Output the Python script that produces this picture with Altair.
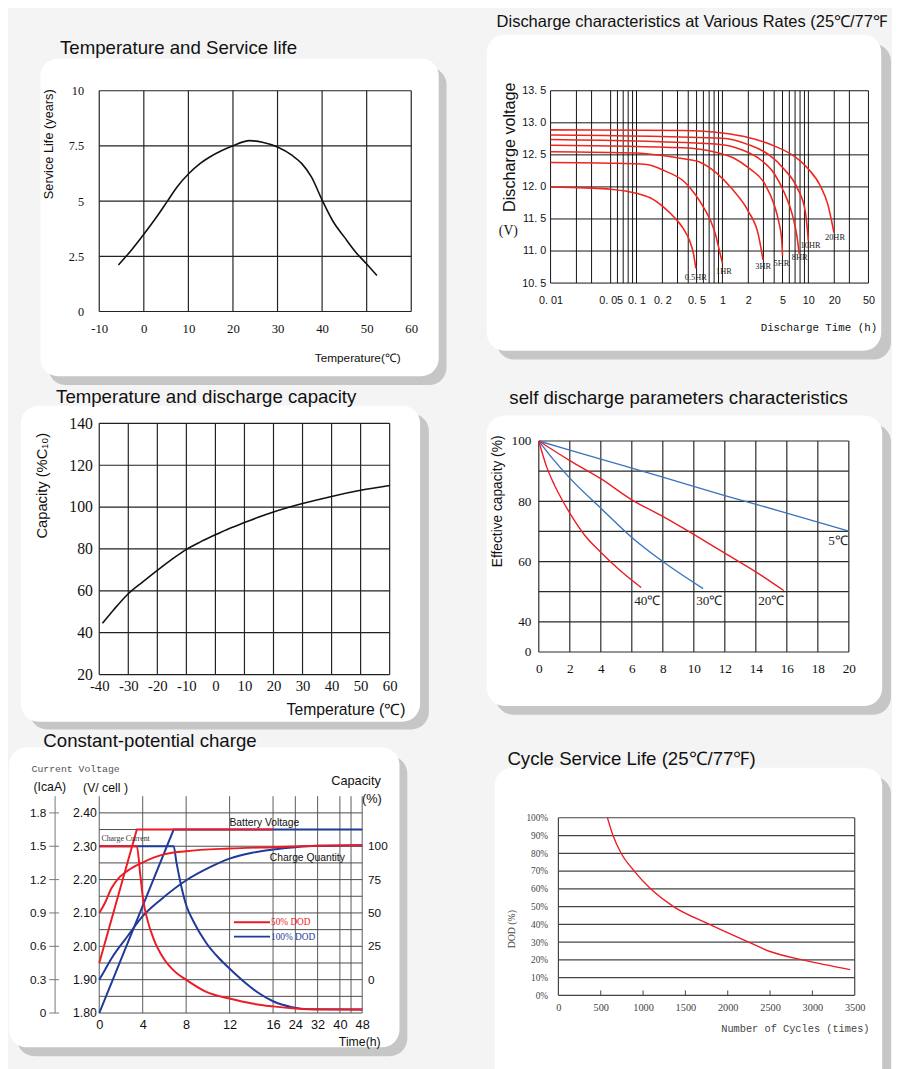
import altair as alt
import pandas as pd

SANS = "Liberation Sans, Arial, Helvetica, sans-serif"
SERIF = "Liberation Serif, Times New Roman, serif"
MONO = "Liberation Mono, Courier New, monospace"
INK = "#111111"
RED = "#ec1c24"
BLUE_LIGHT = "#3a74bd"
BLUE_DARK = "#1f3a98"
PLAIN = "'' + datum.value"

# ---------------- Temperature and Service life
life_temp_ticks = [-10, 0, 10, 20, 30, 40, 50, 60]
life_year_ticks = [0, 2.5, 5, 7.5, 10]
life_temp = [-5.7, -2.8, 0, 3.1, 5.3, 7.5, 10.1, 12.6, 14.8, 17.4, 20.0, 23.7, 26.6,
             30.0, 33.2, 35.4, 37.6, 40.0, 42.4, 45.0, 47.5, 50.0, 52.3]
life_years = [2.11, 2.78, 3.50, 4.35, 5.00, 5.65, 6.25, 6.70, 7.00, 7.28, 7.51, 7.74, 7.67,
              7.45, 7.08, 6.71, 6.10, 5.05, 4.10, 3.37, 2.70, 2.15, 1.63]

# ---------------- Discharge characteristics at various rates
dis_time_ticks = [0.01, 0.05, 0.1, 0.2, 0.5, 1, 2, 5, 10, 20, 50]
dis_time_grid = [0.01, 0.02, 0.03, 0.05, 0.06, 0.07, 0.08, 0.09, 0.1, 0.2, 0.3, 0.4, 0.5,
                 0.6, 0.7, 0.8, 0.9, 1, 2, 3, 4, 5, 6, 7, 8, 9, 10, 20, 30, 50]
dis_volt_ticks = [10.5, 11.0, 11.5, 12.0, 12.5, 13.0, 13.5]
hr05_t = [0.01, 0.025, 0.05, 0.1, 0.144, 0.213, 0.278, 0.346, 0.415, 0.46, 0.49]
hr05_v = [12.0, 11.985, 11.965, 11.90, 11.83, 11.67, 11.52, 11.36, 11.16, 10.96, 10.73]
hr1_t = [0.01, 0.05, 0.131, 0.213, 0.36, 0.49, 0.61, 0.73, 0.83, 0.92, 1.0]
hr1_v = [12.38, 12.37, 12.35, 12.25, 12.08, 11.87, 11.67, 11.47, 11.26, 11.01, 10.81]
hr3_t = [0.01, 0.1, 0.2, 0.35, 0.54, 0.83, 1.29, 2.0, 2.61, 2.97]
hr3_v = [12.55, 12.53, 12.49, 12.44, 12.39, 12.23, 11.97, 11.62, 11.26, 10.86]
hr5_t = [0.01, 0.35, 0.83, 1.4, 2.0, 3.1, 4.0, 4.5, 4.9, 5.0]
hr5_v = [12.65, 12.61, 12.54, 12.44, 12.30, 12.05, 11.72, 11.47, 11.16, 10.93]
hr8_t = [0.01, 0.83, 1.67, 2.8, 4.0, 5.2, 6.5, 7.4, 7.8]
hr8_v = [12.74, 12.67, 12.58, 12.42, 12.21, 11.92, 11.57, 11.21, 10.96]
hr10_t = [0.01, 1.0, 2.0, 3.4, 5.2, 7.5, 9.2, 10.0]
hr10_v = [12.81, 12.76, 12.66, 12.51, 12.28, 11.97, 11.62, 11.16]
hr20_t = [0.01, 0.35, 1.0, 2.0, 4.0, 6.8, 10.0, 13.6, 16.9, 19.8]
hr20_v = [12.89, 12.88, 12.84, 12.77, 12.64, 12.48, 12.28, 12.03, 11.72, 11.29]
rate_names = ["0.5HR", "1HR", "3HR", "5HR", "8HR", "10HR", "20HR"]
rate_label_t = [0.49, 1.04, 2.98, 4.85, 7.9, 10.6, 20.4]
rate_label_v = [10.60, 10.69, 10.77, 10.81, 10.90, 11.10, 11.22]

# ---------------- Temperature and discharge capacity
cap_temp_ticks = [-40, -30, -20, -10, 0, 10, 20, 30, 40, 50, 60]
cap_pct_ticks = [20, 40, 60, 80, 100, 120, 140]
cap_temp = [-38.9, -35, -30, -25, -20, -15, -10, -5, 0, 5, 10, 15, 20, 25, 30, 40, 50, 60]
cap_pct = [44.5, 51.0, 58.6, 64.3, 69.8, 75.0, 79.8, 83.5, 86.8, 89.9, 92.6, 95.3, 97.7,
           99.8, 101.7, 105.1, 108.0, 110.3]

# ---------------- Self discharge
sd_day_ticks = [0, 2, 4, 6, 8, 10, 12, 14, 16, 18, 20]
sd_cap_ticks = [30, 40, 50, 60, 70, 80, 90, 100]
sd5_days = [0, 4, 8, 12, 16, 20]
sd5_cap = [100, 94.0, 88.0, 81.9, 76.1, 70.1]
sd20_days = [0, 2, 4, 6, 8, 10, 12, 14, 15.8]
sd20_cap = [100, 93.5, 87.5, 80.5, 75.0, 69.0, 62.8, 56.6, 50.4]
sd30_days = [0, 1, 2, 4, 6, 8, 10.6]
sd30_cap = [100, 93.5, 87.7, 77.7, 68.0, 60.0, 51.0]
sd40_days = [0, 0.5, 1, 1.5, 2, 3, 4, 5.1, 6.6]
sd40_cap = [100, 91.5, 85.5, 80.5, 76.1, 68.5, 63.1, 57.7, 51.4]
sd_label_text = ["5℃", "40℃", "30℃", "20℃"]
sd_label_day = [19.3, 7.0, 11.0, 15.0]
sd_label_cap = [66.9, 47.0, 47.0, 47.0]

# ---------------- Constant-potential charge
chg_time_ticks = [0, 4, 8, 12, 16, 24, 32, 40, 48]
chg_time_grid = [0, 4, 8, 12, 16, 24, 32, 40, 44, 48]
chg_volt_ticks = [1.8, 1.9, 2.0, 2.1, 2.2, 2.3, 2.4]
chg_volt_grid = [1.80, 1.85, 1.90, 1.95, 2.00, 2.05, 2.10, 2.15, 2.20, 2.25, 2.30, 2.35, 2.40]
chg_cap_ticks = [1.9, 2.0, 2.1, 2.2, 2.3]
bv50_t = [0, 3.46, 16]
bv50_v = [1.95, 2.35, 2.35]
bv100_t = [0, 6.85, 48]
bv100_v = [1.80, 2.35, 2.35]
cc50_t = [0, 3.46, 3.77, 4.04, 4.43, 5.03, 5.93, 6.99, 7.98, 9.85, 11.99, 14.07, 16, 24, 32, 48]
cc50_i = [1.5, 1.5, 1.25, 1.02, 0.84, 0.66, 0.49, 0.37, 0.30, 0.19, 0.13, 0.085, 0.06, 0.041, 0.032, 0.032]
cc100_t = [0, 6.85, 7.1, 7.44, 8.04, 8.64, 9.85, 11.05, 11.99, 13.46, 14.67, 16, 22.8, 28.8, 48]
cc100_i = [1.5, 1.5, 1.36, 1.19, 0.96, 0.83, 0.63, 0.49, 0.40, 0.27, 0.18, 0.106, 0.053, 0.035, 0.032]
cq50_t = [0, 0.51, 1.11, 1.87, 2.62, 3.98, 5.93, 7.98, 11.99, 16, 32, 48]
cq50_q = [50, 57.3, 68.3, 76.8, 81.7, 87.8, 93.9, 96.3, 98.3, 99.3, 100.3, 100.8]
cq100_t = [0, 0.51, 1.11, 2.62, 3.98, 5.63, 7.98, 10.15, 11.99, 14.07, 16, 24, 32, 48]
cq100_q = [0, 7.1, 15.7, 32.7, 47.4, 59.7, 74.3, 84.1, 90.7, 95.1, 97.6, 99.3, 100.3, 100.8]
chg_label_text = ["Battery Voltage", "Charge Quantity"]
chg_label_t = [15.2, 28.3]
chg_label_v = [2.368, 2.265]
leg_names = ["50% DOD", "100% DOD"]
leg_t0 = [12.4, 12.4]
leg_t1 = [15.72, 15.72]
leg_v = [2.072, 2.029]
leg_colors = [RED, BLUE_DARK]

# ---------------- Cycle service life
cyc_ticks = [0, 500, 1000, 1500, 2000, 2500, 3000, 3500]
dod_ticks = [0, 10, 20, 30, 40, 50, 60, 70, 80, 90, 100]
cycles = [579, 645, 741, 896, 1089, 1360, 1785, 2248, 2500, 2900, 3445]
dod = [100, 90, 80, 70, 60, 50, 40, 30, 24.7, 19.8, 14.5]

ONE = pd.DataFrame({"k": [0]})


def ax(**kw):
    base = dict(grid=False, ticks=False, domain=False, labelFlush=False,
                labelOverlap=False, zindex=1, titleFontWeight="normal",
                labelColor=INK, titleColor=INK)
    base.update(kw)
    return alt.Axis(**base)


def vtext(txt, x, y, font=SANS, size=12, color=INK, align="left"):
    return alt.Chart(ONE).mark_text(align=align, baseline="alphabetic", font=font,
                                    fontSize=size, color=color).encode(
        x=alt.value(x), y=alt.value(y), text=alt.value(txt))


def deco(ext, card, sdx, sdy, title, tx, ty, tsize, round_bottom=True):
    ex0, ex1, ey0, ey1 = ext
    cx0, cx1, cy0, cy1 = card
    r = 18
    rb = r if round_bottom else 0
    spacer = alt.Chart(ONE).mark_rect(opacity=0).encode(
        x=alt.value(ex0), x2=alt.value(ex1), y=alt.value(ey0), y2=alt.value(ey1))
    shadow = alt.Chart(ONE).mark_rect(
        color="#c6c6c6", cornerRadiusTopLeft=r, cornerRadiusTopRight=r,
        cornerRadiusBottomLeft=rb, cornerRadiusBottomRight=rb).encode(
        x=alt.value(cx0 + sdx), x2=alt.value(cx1 + sdx),
        y=alt.value(cy0 + sdy), y2=alt.value(min(cy1 + sdy, ey1)))
    cardl = alt.Chart(ONE).mark_rect(
        color="#ffffff", cornerRadiusTopLeft=r, cornerRadiusTopRight=r,
        cornerRadiusBottomLeft=rb, cornerRadiusBottomRight=rb).encode(
        x=alt.value(cx0), x2=alt.value(cx1), y=alt.value(cy0), y2=alt.value(cy1))
    return [spacer, shadow, cardl, vtext(title, tx, ty, size=tsize)]


# =============== Panel 1
W1, H1 = 318, 225
sx1 = alt.Scale(domain=[-10, 60], nice=False, zero=False)
sy1 = alt.Scale(domain=[0, 10], nice=False, zero=False)
ax1x = ax(values=life_temp_ticks, labelExpr=PLAIN, labelFont=SERIF, labelFontSize=13, labelPadding=11,
          title="Temperature(℃)", titleFont=SANS, titleFontSize=12, titleX=263, titleY=51,
          titleAlign="center", titleBaseline="alphabetic")
ax1y = ax(values=life_year_ticks, labelExpr=PLAIN, labelFont=SERIF, labelFontSize=12.5, labelPadding=16,
          title="Service Life (years)", titleFont=SANS, titleFontSize=13, titleX=-52, titleY=54,
          titleAlign="center", titleBaseline="middle", titleAngle=270)
X1 = alt.X("temp:Q", scale=sx1, axis=ax1x)
Y1 = alt.Y("life:Q", scale=sy1, axis=ax1y)
g1x = alt.Chart(pd.DataFrame({"temp": life_temp_ticks})).mark_rule(color="#222", strokeWidth=1.2).encode(x=X1)
g1y = alt.Chart(pd.DataFrame({"life": life_year_ticks})).mark_rule(color="#222", strokeWidth=1.2).encode(y=Y1)
l1 = alt.Chart(pd.DataFrame({"temp": life_temp, "life": life_years})).mark_line(
    color=INK, strokeWidth=1.6, interpolate="monotone").encode(x=X1, y=Y1)
p1 = alt.layer(*deco([-75, 373, -54, 301], [-60, 346, -33, 291], 8, 9,
                     "Temperature and Service life", -40, -37, 19),
               g1x, g1y, l1).properties(width=W1, height=H1)

# =============== Panel 2
W2, H2 = 324, 196
sx2 = alt.Scale(type="log", domain=[0.01, 50], nice=False)
sy2 = alt.Scale(domain=[10.5, 13.5], nice=False, zero=False)
X2 = alt.X("t:Q", scale=sx2, axis=ax(
    values=dis_time_ticks, labelExpr="replace(format(datum.value, '~g'), '.', '. ')",
    labelFont=SANS, labelFontSize=11, labelPadding=12,
    title="Discharge Time (h)", titleFont=MONO, titleFontSize=11, titleX=273, titleY=48,
    titleAlign="center", titleBaseline="alphabetic"))
Y2 = alt.Y("v:Q", scale=sy2, axis=ax(
    values=dis_volt_ticks, labelExpr="replace(format(datum.value, '.1f'), '.', '. ')",
    labelFont=SANS, labelFontSize=11, labelPadding=5,
    title="Discharge voltage", titleFont=SANS, titleFontSize=16.5, titleX=-42, titleY=57,
    titleAlign="center", titleBaseline="middle", titleAngle=270))
rate_series = [("0.5HR", hr05_t, hr05_v), ("1HR", hr1_t, hr1_v), ("3HR", hr3_t, hr3_v),
               ("5HR", hr5_t, hr5_v), ("8HR", hr8_t, hr8_v), ("10HR", hr10_t, hr10_v),
               ("20HR", hr20_t, hr20_v)]
df2 = pd.concat([pd.DataFrame({"rate": n, "t": t, "v": v}) for n, t, v in rate_series])
g2x = alt.Chart(pd.DataFrame({"t": dis_time_grid})).mark_rule(color="#111", strokeWidth=1).encode(x=X2)
g2y = alt.Chart(pd.DataFrame({"v": dis_volt_ticks})).mark_rule(color="#111", strokeWidth=1).encode(y=Y2)
l2 = alt.Chart(df2).mark_line(color="#f0261e", strokeWidth=1.6, interpolate="monotone").encode(
    x=X2, y=Y2, detail="rate:N")
t2 = alt.Chart(pd.DataFrame({"name": rate_names, "t": rate_label_t, "v": rate_label_v})).mark_text(
    font=SERIF, fontSize=8.5, color="#222").encode(x=X2, y=Y2, text="name:N")
p2 = alt.layer(*deco([-85, 347, -85, 274], [-65, 337, -57, 265], 10, 9,
                     "Discharge characteristics at Various Rates (25℃/77℉", -55, -65, 16.8),
               g2x, g2y, l2, t2, vtext("(V)", -43, 147, font=SERIF, size=14, align="center")
               ).properties(width=W2, height=H2)

# =============== Panel 3
W3, H3 = 296, 256
sx3 = alt.Scale(domain=[-40, 60], nice=False, zero=False)
sy3 = alt.Scale(domain=[20, 140], nice=False, zero=False)
X3 = alt.X("temp:Q", scale=sx3, axis=ax(
    values=cap_temp_ticks, labelExpr=PLAIN, labelFont=SERIF, labelFontSize=15, labelPadding=4,
    title="Temperature (℃)", titleFont=SANS, titleFontSize=16, titleX=251, titleY=41,
    titleAlign="center", titleBaseline="alphabetic"))
Y3 = alt.Y("cap:Q", scale=sy3, axis=ax(
    values=cap_pct_ticks, labelExpr=PLAIN, labelFont=SERIF, labelFontSize=16, labelPadding=7,
    title="Capacity (%C₁₀)", titleFont=SANS, titleFontSize=15, titleX=-59, titleY=63,
    titleAlign="center", titleBaseline="middle", titleAngle=270))
g3x = alt.Chart(pd.DataFrame({"temp": cap_temp_ticks})).mark_rule(color="#222", strokeWidth=1.2).encode(x=X3)
g3y = alt.Chart(pd.DataFrame({"cap": cap_pct_ticks})).mark_rule(color="#222", strokeWidth=1.2).encode(y=Y3)
l3 = alt.Chart(pd.DataFrame({"temp": cap_temp, "cap": cap_pct})).mark_line(
    color=INK, strokeWidth=1.6, interpolate="monotone").encode(x=X3, y=Y3)
p3 = alt.layer(*deco([-80, 368, -36, 312], [-80, 327, -18, 304], 9, 8,
                     "Temperature and discharge capacity", -44, -21, 19),
               g3x, g3y, l3).properties(width=W3, height=H3)

# =============== Panel 4
W4, H4 = 316, 215
sx4 = alt.Scale(domain=[0, 20], nice=False, zero=False)
sy4 = alt.Scale(domain=[30, 100], nice=False, zero=False)
X4 = alt.X("day:Q", scale=sx4, axis=ax(
    values=sd_day_ticks, labelExpr=PLAIN, labelFont=SERIF, labelFontSize=13.5, labelPadding=10,
    title=None))
Y4 = alt.Y("cap:Q", scale=sy4, axis=ax(
    values=sd_cap_ticks,
    labelExpr="datum.value == 30 ? '0' : (datum.value % 20 == 0 ? '' + datum.value : '')",
    labelFont=SERIF, labelFontSize=13.5, labelPadding=8,
    title="Effective capacity (%)", titleFont=SANS, titleFontSize=14, titleX=-42, titleY=61,
    titleAlign="center", titleBaseline="middle", titleAngle=270))
sd_series = [("5℃", sd5_days, sd5_cap, BLUE_LIGHT), ("20℃", sd20_days, sd20_cap, RED),
             ("30℃", sd30_days, sd30_cap, BLUE_LIGHT), ("40℃", sd40_days, sd40_cap, RED)]
df4 = pd.concat([pd.DataFrame({"temp": n, "day": d, "cap": c, "col": col}) for n, d, c, col in sd_series])
g4x = alt.Chart(pd.DataFrame({"day": sd_day_ticks})).mark_rule(color="#2a2a2a", strokeWidth=1.2).encode(x=X4)
g4y = alt.Chart(pd.DataFrame({"cap": sd_cap_ticks})).mark_rule(color="#2a2a2a", strokeWidth=1.2).encode(y=Y4)
l4 = alt.Chart(df4).mark_line(strokeWidth=1.4, interpolate="monotone").encode(
    x=X4, y=Y4, color=alt.Color("col:N", scale=None), detail="temp:N")
t4 = alt.Chart(pd.DataFrame({"name": sd_label_text, "day": sd_label_day, "cap": sd_label_cap})).mark_text(
    font=SERIF, fontSize=13.5, color="#222").encode(x=X4, y=Y4, text="name:N")
p4 = alt.layer(*deco([-73, 359, -54, 280], [-53, 350, -26, 270], 9, 9,
                     "self discharge parameters characteristics", -30, -38, 19),
               g4x, g4y, l4, t4).properties(width=W4, height=H4)

# =============== Panel 5  (time axis: 0-16 h stretched, 16-48 h compressed)
W5, H5 = 268, 221
BREAK_H, BREAK_FRAC = 16, 0.661
POS_EXPR = "datum.{f} <= 16 ? datum.{f} / 16 * 0.661 : 0.661 + (datum.{f} - 16) / 32 * 0.339"
LABEL_EXPR = ("datum.value <= 0.6615 ? format(round(datum.value / 0.661 * 16), 'd') : "
              "format(round(16 + (datum.value - 0.661) / 0.339 * 32), 'd')")


def tpos(t):
    return t / BREAK_H * BREAK_FRAC if t <= BREAK_H else BREAK_FRAC + (t - BREAK_H) / 32 * (1 - BREAK_FRAC)


sx5 = alt.Scale(domain=[0, 1], nice=False, zero=False)
sy5 = alt.Scale(domain=[1.8, 2.45], nice=False, zero=False)
ax5x = ax(values=[tpos(t) for t in chg_time_ticks], labelExpr=LABEL_EXPR,
          labelFont=SANS, labelFontSize=13, labelPadding=6,
          title="Time(h)", titleFont=SANS, titleFontSize=12.5, titleX=265, titleY=33,
          titleAlign="center", titleBaseline="alphabetic")
ax5y = ax(values=chg_volt_ticks, format=".2f", labelFont=SANS, labelFontSize=12.5,
          labelPadding=3, title="(V/ cell )", titleFont=SANS, titleFontSize=12.5, titleAngle=0,
          titleX=-17, titleY=-5, titleAlign="left", titleBaseline="alphabetic")


def X5(f="t_pos"):
    return alt.X(f + ":Q", scale=sx5, axis=ax5x)


Y5 = alt.Y("yv:Q", scale=sy5, axis=ax5y)


def chg_chart(df, fields=("t",)):
    c = alt.Chart(df)
    for f in fields:
        c = c.transform_calculate(**{f + "_pos": POS_EXPR.format(f=f)})
    return c


def volt_df(kind, t, yv):
    return pd.DataFrame({"kind": kind, "t": t, "yv": yv})


bv_blue = volt_df("bv", bv100_t, bv100_v)
bv_red = volt_df("bv", bv50_t, bv50_v)
cur_blue = pd.concat([volt_df("cc", cc100_t, [1.8 + i / 3 for i in cc100_i]),
                      volt_df("cq", cq100_t, [1.9 + q / 250 for q in cq100_q])])
cur_red = pd.concat([volt_df("cc", cc50_t, [1.8 + i / 3 for i in cc50_i]),
                     volt_df("cq", cq50_t, [1.9 + q / 250 for q in cq50_q])])

g5x = chg_chart(pd.DataFrame({"t": chg_time_grid})).mark_rule(color="#5a5a5a", strokeWidth=1).encode(x=X5())
g5y = alt.Chart(pd.DataFrame({"yv": chg_volt_grid})).mark_rule(color="#4a4a4a", strokeWidth=1).encode(y=Y5)
bvb = chg_chart(bv_blue).mark_line(color=BLUE_DARK, strokeWidth=2).encode(x=X5(), y=Y5)
cvb = chg_chart(cur_blue).mark_line(color=BLUE_DARK, strokeWidth=2, interpolate="monotone").encode(
    x=X5(), y=Y5, detail="kind:N")
bvr = chg_chart(bv_red).mark_line(color=RED, strokeWidth=2).encode(x=X5(), y=Y5)
cvr = chg_chart(cur_red).mark_line(color=RED, strokeWidth=2, interpolate="monotone").encode(
    x=X5(), y=Y5, detail="kind:N")
# current (CA) scale drawn left of the voltage scale, capacity (%) scale on the right
cur_df = pd.DataFrame({"yv": chg_volt_ticks})
cur_line = alt.Chart(ONE).mark_rule(color="#777", strokeWidth=1).encode(x=alt.value(-45))
cur_ticks = alt.Chart(cur_df).mark_rule(color="#777", strokeWidth=1).encode(
    x=alt.value(-51), x2=alt.value(-41), y=Y5)
cur_labels = alt.Chart(cur_df).transform_calculate(
    lab="datum.yv == 1.8 ? '0' : format((datum.yv - 1.8) * 3, '.1f')").mark_text(
    align="right", baseline="middle", font=SANS, fontSize=12, color=INK).encode(
    x=alt.value(-54), y=Y5, text="lab:N")
cap_labels = alt.Chart(pd.DataFrame({"yv": chg_cap_ticks})).transform_calculate(
    lab="format(round((datum.yv - 1.9) * 250), 'd')").mark_text(
    align="left", baseline="middle", font=SANS, fontSize=12, color=INK).encode(
    x=alt.value(W5 + 6), y=Y5, text="lab:N")
lab5 = chg_chart(pd.DataFrame({"name": chg_label_text, "t": chg_label_t, "yv": chg_label_v})).mark_text(
    font=SANS, fontSize=10.5, color=INK).encode(x=X5(), y=Y5, text="name:N")
lab5b = chg_chart(pd.DataFrame({"name": ["Charge Current"], "t": [0.2], "yv": [2.322]})).mark_text(
    font=SERIF, fontSize=8, color="#333", align="left").encode(x=X5(), y=Y5, text="name:N")
legdf = pd.DataFrame({"name": leg_names, "t0": leg_t0, "t1": leg_t1, "yv": leg_v, "col": leg_colors})
legl = chg_chart(legdf, ("t0", "t1")).mark_rule(strokeWidth=2).encode(
    x=X5("t0_pos"), x2=alt.X2("t1_pos"), y=Y5, color=alt.Color("col:N", scale=None))
legt = chg_chart(legdf, ("t1",)).mark_text(font=SERIF, fontSize=9.5, align="left", dx=1).encode(
    x=X5("t1_pos"), y=Y5, text="name:N", color=alt.Color("col:N", scale=None))
p5 = alt.layer(*deco([-92, 356, -66, 266], [-92, 306, -50, 256], 8, 9,
                     "Constant-potential charge", -57, -50, 19),
               vtext("Current Voltage", -69, -25, font=MONO, size=10, color="#555"),
               vtext("(IcaA)", -67, -5, size=12.5),
               vtext("Capacity", W5 + 19, -11, size=13, align="right"),
               vtext("(%)", W5 + 20, 7, size=13, align="right"),
               g5x, g5y, bvb, cvb, bvr, cvr, cur_line, cur_ticks, cur_labels, cap_labels,
               lab5, lab5b, legl, legt).properties(width=W5, height=H5)

# =============== Panel 6
W6, H6 = 302, 181
sx6 = alt.Scale(domain=[0, 3500], nice=False, zero=False)
sy6 = alt.Scale(domain=[0, 100], nice=False, zero=False)
X6 = alt.X("cyc:Q", scale=sx6, axis=ax(
    values=cyc_ticks, labelExpr=PLAIN, labelFont=SERIF, labelFontSize=10.5, labelColor="#444",
    labelPadding=7, title="Number of Cycles (times)", titleFont=MONO, titleFontSize=10.5,
    titleColor="#444", titleX=241, titleY=37, titleAlign="center", titleBaseline="alphabetic"))
Y6 = alt.Y("dod:Q", scale=sy6, axis=ax(
    values=dod_ticks, labelExpr="datum.value + '%'", labelFont=SERIF, labelFontSize=9.5,
    labelColor="#444", labelPadding=11,
    title="DOD (%)", titleFont=SERIF, titleFontSize=10, titleColor="#444",
    titleX=-48, titleY=113, titleAlign="center", titleBaseline="middle", titleAngle=270))
g6y = alt.Chart(pd.DataFrame({"dod": dod_ticks})).mark_rule(color="#444", strokeWidth=1.2).encode(y=Y6)
g6x = alt.Chart(pd.DataFrame({"cyc": [cyc_ticks[0], cyc_ticks[-1]]})).mark_rule(
    color="#444", strokeWidth=1.2).encode(x=X6)
tk6 = alt.Chart(pd.DataFrame({"cyc": cyc_ticks[1:-1]})).mark_rule(color="#444", strokeWidth=1).encode(
    x=X6, y=alt.value(H6 - 5), y2=alt.value(H6))
l6 = alt.Chart(pd.DataFrame({"cyc": cycles, "dod": dod})).mark_line(
    color=RED, strokeWidth=1.4, interpolate="monotone").encode(x=X6, y=Y6)
p6 = alt.layer(*deco([-93, 339, -70, 261], [-65, 330, -51, 261], 9, 9,
                     "Cycle Service Life (25℃/77℉)", -52, -54, 19, round_bottom=False),
               g6y, g6x, tk6, l6).properties(width=W6, height=H6)

chart = alt.concat(p1, p2, p3, p4, p5, p6, columns=2, spacing=0, align="none").properties(
    padding={"left": 0, "top": -12, "right": 0, "bottom": 0},
    background="#f4f4f4",
).configure_view(stroke=None).configure(font=SANS)

chart.save("out.html", embed_options={"renderer": "svg", "actions": False})
